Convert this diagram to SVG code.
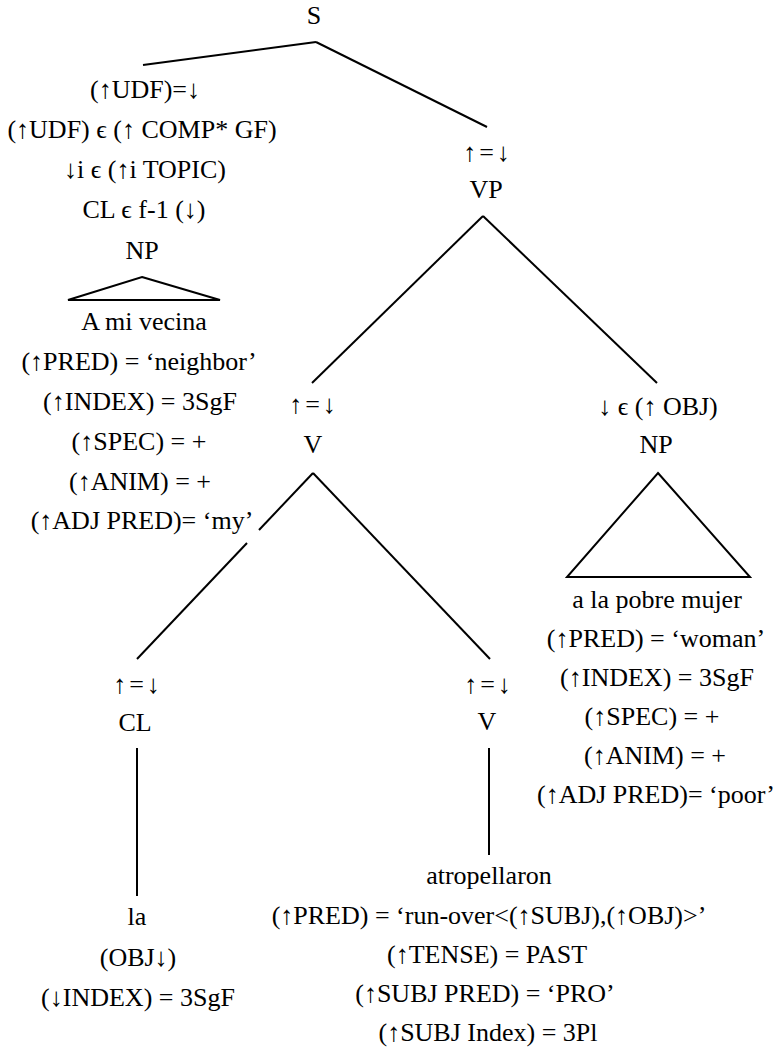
<svg xmlns="http://www.w3.org/2000/svg" width="778" height="1052" viewBox="0 0 778 1052">
  <style>
    text { font-family: "Liberation Serif", "DejaVu Serif", serif; font-size: 26px; fill: #000; text-anchor: middle; }
    .eq { letter-spacing: 3px; }
    .edge { stroke: #000; stroke-width: 2; fill: none; stroke-linecap: butt; }
  </style>
  <rect width="778" height="1052" fill="#fff"/>

  <!-- tree branches -->
  <g id="connectors">
    <line class="edge" x1="316" y1="42" x2="143" y2="65"/>
    <line class="edge" x1="316" y1="42" x2="487" y2="127"/>
    <line class="edge" x1="483" y1="216" x2="312" y2="383"/>
    <line class="edge" x1="483" y1="216" x2="657" y2="383"/>
    <line class="edge" x1="313" y1="473" x2="259" y2="530"/>
    <line class="edge" x1="247" y1="543" x2="137" y2="659"/>
    <line class="edge" x1="313" y1="473" x2="490" y2="659"/>
    <line class="edge" x1="137" y1="748" x2="137" y2="896"/>
    <line class="edge" x1="489" y1="748" x2="489" y2="855"/>
  </g>

  <g id="node-S">
    <text x="314" y="24">S</text>
  </g>

  <!-- fronted object NP with its annotations -->
  <g id="node-NP-topic">
    <text x="145" y="98">(↑UDF)=↓</text>
    <text x="142" y="138">(↑UDF) ϵ (↑ COMP* GF)</text>
    <text x="145" y="178">↓i ϵ (↑i TOPIC)</text>
    <text x="144" y="218">CL ϵ f-1 (↓)</text>
    <text x="142" y="259">NP</text>
    <polygon class="edge" points="142,277 220,300 68,300"/>
    <text x="144" y="330">A mi vecina</text>
    <text x="139" y="370">(↑PRED) = ‘neighbor’</text>
    <text x="140" y="410">(↑INDEX) = 3SgF</text>
    <text x="139" y="450">(↑SPEC) = +</text>
    <text x="140" y="490">(↑ANIM) = +</text>
    <text x="142" y="529">(↑ADJ PRED)= ‘my’</text>
  </g>

  <g id="node-VP">
    <text class="eq" x="488" y="161">↑=↓</text>
    <text x="486" y="198">VP</text>
  </g>

  <g id="node-V">
    <text class="eq" x="314" y="413">↑=↓</text>
    <text x="313" y="453">V</text>
  </g>

  <!-- in-situ object NP -->
  <g id="node-NP-obj">
    <text x="658" y="415">↓ ϵ (↑ OBJ)</text>
    <text x="656" y="453">NP</text>
    <polygon class="edge" points="658,473 750,577 567,577"/>
    <text x="657" y="608">a la pobre mujer</text>
    <text x="656" y="647">(↑PRED) = ‘woman’</text>
    <text x="657" y="686">(↑INDEX) = 3SgF</text>
    <text x="652" y="725">(↑SPEC) = +</text>
    <text x="655" y="764">(↑ANIM) = +</text>
    <text x="656" y="803">(↑ADJ PRED)= ‘poor’</text>
  </g>

  <g id="node-CL">
    <text class="eq" x="138" y="693">↑=↓</text>
    <text x="135" y="731">CL</text>
  </g>

  <g id="node-la">
    <text x="137" y="925">la</text>
    <text x="138" y="966">(OBJ↓)</text>
    <text x="138" y="1006">(↓INDEX) = 3SgF</text>
  </g>

  <g id="node-V-head">
    <text class="eq" x="489" y="693">↑=↓</text>
    <text x="487" y="730">V</text>
  </g>

  <g id="node-atropellaron">
    <text x="489" y="884">atropellaron</text>
    <text x="489" y="924">(↑PRED) = ‘run-over&lt;(↑SUBJ),(↑OBJ)&gt;’</text>
    <text x="487" y="963">(↑TENSE) = PAST</text>
    <text x="485" y="1002">(↑SUBJ PRED) = ‘PRO’</text>
    <text x="488" y="1041">(↑SUBJ Index) = 3Pl</text>
  </g>
</svg>
